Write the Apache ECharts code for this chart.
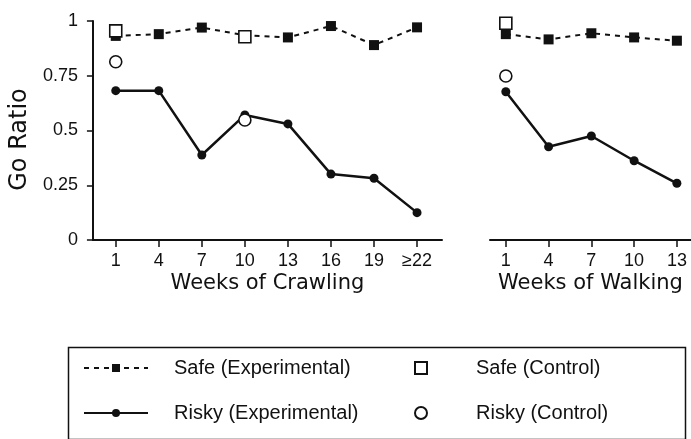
<!DOCTYPE html>
<html>
<head>
<meta charset="utf-8">
<script src="https://cdn.jsdelivr.net/npm/echarts@6/dist/echarts.min.js"></script>
<style>
html,body{margin:0;padding:0;background:#fff;}
#chart{width:691px;height:439px;}
</style>
</head>
<body>
<div id="chart"></div>
<script>
// Categories (tick labels)
const crawlWeeks = ['1', '4', '7', '10', '13', '16', '19', '\u226522'];
const walkWeeks = ['1', '4', '7', '10', '13'];
const yTicks = [0, 0.25, 0.5, 0.75, 1];

// Series values
const safeExpCrawl = [0.932, 0.94, 0.97, 0.935, 0.925, 0.977, 0.89, 0.971];
const riskyExpCrawl = [0.682, 0.682, 0.388, 0.571, 0.53, 0.301, 0.282, 0.125];
const safeCtrlCrawl = [0.955, null, null, 0.928, null, null, null, null];
const riskyCtrlCrawl = [0.814, null, null, 0.548, null, null, null, null];

const safeExpWalk = [0.94, 0.916, 0.944, 0.925, 0.91];
const riskyExpWalk = [0.677, 0.426, 0.475, 0.362, 0.259];
const safeCtrlWalk = [0.99, null, null, null, null];
const riskyCtrlWalk = [0.749, null, null, null, null];

const names = {
  safeExp: 'Safe (Experimental)',
  riskyExp: 'Risky (Experimental)',
  safeCtrl: 'Safe (Control)',
  riskyCtrl: 'Risky (Control)'
};

function pairs(arr) {
  const out = [];
  arr.forEach((v, i) => { if (v !== null) out.push([i, v]); });
  return out;
}

const FONT = 'Liberation Sans';
const TITLE_FONT = 'DejaVu Sans';
const INK = '#111';

function xAxisFor(gridIndex, labels, min, max, name) {
  const idx = labels.map((_, i) => i);
  return {
    type: 'value', gridIndex, min, max,
    name, nameLocation: 'middle', nameGap: 33,
    nameTextStyle: { fontFamily: TITLE_FONT, fontSize: 21, color: INK },
    axisLine: { show: true, onZero: false, lineStyle: { color: INK, width: 2 } },
    axisTick: { show: true, customValues: idx, length: 7, lineStyle: { color: INK, width: 1.5 } },
    axisLabel: {
      customValues: idx, margin: 12,
      fontFamily: FONT, fontSize: 18, color: INK,
      formatter: v => labels[Math.round(v)]
    },
    splitLine: { show: false }
  };
}

const safeLine = { color: INK, width: 2, type: [5, 5] };
const riskyLine = { color: INK, width: 2.5 };
const openStyle = { color: '#fff', borderColor: INK, borderWidth: 1.6, opacity: 1 };

function buildSeries(idx, safeExp, riskyExp, safeCtrl, riskyCtrl) {
  return [
    {
      name: names.safeExp, type: 'line', xAxisIndex: idx, yAxisIndex: idx,
      data: pairs(safeExp), symbol: 'rect', symbolSize: 10,
      lineStyle: safeLine, itemStyle: { color: INK }, z: 2,
      emphasis: { disabled: true }
    },
    {
      name: names.riskyExp, type: 'line', xAxisIndex: idx, yAxisIndex: idx,
      data: pairs(riskyExp), symbol: 'circle', symbolSize: 9,
      lineStyle: riskyLine, itemStyle: { color: INK }, z: 2,
      emphasis: { disabled: true }
    },
    {
      name: names.safeCtrl, type: 'scatter', xAxisIndex: idx, yAxisIndex: idx,
      data: pairs(safeCtrl), symbol: 'rect', symbolSize: 12,
      itemStyle: openStyle, z: 3, emphasis: { disabled: true }
    },
    {
      name: names.riskyCtrl, type: 'scatter', xAxisIndex: idx, yAxisIndex: idx,
      data: pairs(riskyCtrl), symbol: 'circle', symbolSize: 12,
      itemStyle: openStyle, z: 3, emphasis: { disabled: true }
    }
  ];
}

const chart = echarts.init(document.getElementById('chart'), null, { renderer: 'canvas' });

chart.setOption({
  backgroundColor: '#fff',
  animation: false,
  grid: [
    { left: 92, top: 21, width: 350, height: 219 },
    { left: 490, top: 21, width: 201, height: 219 }
  ],
  xAxis: [
    xAxisFor(0, crawlWeeks, -0.53, 7.58, 'Weeks of Crawling'),
    xAxisFor(1, walkWeeks, -0.37, 4.33, 'Weeks of Walking')
  ],
  yAxis: [
    {
      type: 'value', gridIndex: 0, min: yTicks[0], max: yTicks[yTicks.length - 1], interval: 0.25,
      name: 'Go Ratio', nameLocation: 'middle', nameGap: 60,
      nameTextStyle: { fontFamily: TITLE_FONT, fontSize: 24, color: INK, padding: [0, 18, 0, 0] },
      axisLine: { show: true, onZero: false, lineStyle: { color: INK, width: 2 } },
      axisTick: { show: true, length: 6, lineStyle: { color: INK, width: 1.5 } },
      axisLabel: { margin: 15, fontFamily: FONT, fontSize: 18, color: INK },
      splitLine: { show: false }
    },
    {
      type: 'value', gridIndex: 1, min: 0, max: 1, interval: 0.25, show: false,
      splitLine: { show: false }
    }
  ],
  legend: [
    {
      orient: 'vertical', left: 83, top: 357, padding: 0,
      data: [names.safeExp, names.riskyExp],
      itemWidth: 64, itemHeight: 10, itemGap: 23,
      textStyle: { fontFamily: FONT, fontSize: 20, color: INK, padding: [0, 0, 0, 21], lineHeight: 22 },
      selectedMode: false
    },
    {
      orient: 'vertical', left: 414, top: 357, padding: 0,
      data: [names.safeCtrl, names.riskyCtrl],
      itemWidth: 12, itemHeight: 12, itemGap: 23,
      textStyle: { fontFamily: FONT, fontSize: 20, color: INK, padding: [0, 0, 0, 44], lineHeight: 22 },
      selectedMode: false
    }
  ],
  graphic: [
    {
      type: 'rect', left: 66, top: 345, z: -1,
      shape: { x: 0, y: 0, width: 617, height: 92 },
      style: { fill: 'none', stroke: INK, lineWidth: 1.5 }
    }
  ],
  series: [
    ...buildSeries(0, safeExpCrawl, riskyExpCrawl, safeCtrlCrawl, riskyCtrlCrawl),
    ...buildSeries(1, safeExpWalk, riskyExpWalk, safeCtrlWalk, riskyCtrlWalk)
  ]
});
</script>
</body>
</html>
